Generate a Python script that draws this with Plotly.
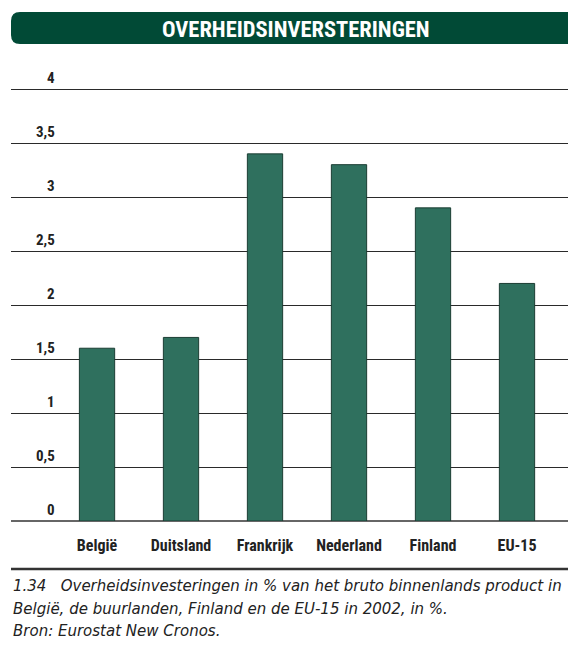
import plotly.graph_objects as go

# data
categories = ['België', 'Duitsland', 'Frankrijk', 'Nederland', 'Finland', 'EU-15']
values = [1.6, 1.7, 3.4, 3.3, 2.9, 2.2]
y_ticks = [0, 0.5, 1, 1.5, 2, 2.5, 3, 3.5, 4]
y_tick_labels = ['0', '0,5', '1', '1,5', '2', '2,5', '3', '3,5', '4']

title_text = 'OVERHEIDSINVERSTERINGEN'
caption_lines = [
    '1.34   Overheidsinvesteringen in % van het bruto binnenlands product in',
    'België, de buurlanden, Finland en de EU-15 in 2002, in %.',
    'Bron: Eurostat New Cronos.',
]

narrow = 'Liberation Sans Narrow, Roboto Condensed, DejaVu Sans Condensed, Arial Narrow, sans-serif'
plain = 'DejaVu Sans, Liberation Sans, Arial, sans-serif'
bar_color = '#2f705e'
dark_green = '#014a36'

W, H = 568, 655
left, right, top, bottom = 11, 0, 88, 134
plot_w = W - left - right
plot_h = H - top - bottom


def px_x(p):
    return (p - left) / plot_w


def px_y(p):
    return (H - bottom - p) / plot_h


fig = go.Figure()
fig.add_trace(go.Bar(
    x=categories, y=values,
    marker=dict(color=bar_color, line=dict(color='#1b3d33', width=1)),
    hoverinfo='x+y',
))

# y tick labels sit above the gridlines, right aligned
annotations = []
for v, t in zip(y_ticks, y_tick_labels):
    annotations.append(dict(
        x=px_x(57), y=v, xref='paper', yref='y', text=t, showarrow=False,
        xanchor='right', yanchor='bottom', yshift=0,
        font=dict(family=narrow, size=15, color='#222', weight='bold'),
    ))

# header text
annotations.append(dict(
    x=px_x(296), y=px_y(29), xref='paper', yref='paper', text=title_text,
    showarrow=False, xanchor='center', yanchor='middle',
    font=dict(family=narrow, size=22.5, color='white', weight='bold'),
))

# caption
for i, line in enumerate(caption_lines):
    annotations.append(dict(
        x=px_x(11), y=px_y(586 + i * 22.5), xref='paper', yref='paper',
        text='<i>' + line + '</i>', showarrow=False,
        xanchor='left', yanchor='middle',
        font=dict(family=plain, size=15, color='#222'),
    ))

# rounded header bar (left corners rounded, runs off the right edge)
x0, x1 = px_x(11), px_x(580)
yt, yb = px_y(12), px_y(44)
rx, ry = 9 / plot_w, 9 / plot_h
path = (f'M {x0 + rx},{yt} L {x1},{yt} L {x1},{yb} L {x0 + rx},{yb} '
        f'Q {x0},{yb} {x0},{yb + ry} L {x0},{yt - ry} Q {x0},{yt} {x0 + rx},{yt} Z')

shapes = [
    dict(type='path', path=path, xref='paper', yref='paper',
         fillcolor=dark_green, line=dict(width=0), layer='above'),
    dict(type='line', xref='paper', yref='paper', x0=0, x1=1,
         y0=px_y(569), y1=px_y(569), line=dict(color='#333', width=2.5)),
]

fig.update_layout(
    width=W, height=H,
    margin=dict(l=left, r=right, t=top, b=bottom),
    plot_bgcolor='white', paper_bgcolor='white',
    showlegend=False,
    bargap=0.58,
    xaxis=dict(range=[-1.024, 5.607], showgrid=False, zeroline=False, showline=False,
               ticks='', tickfont=dict(family=narrow, size=16, color='#222', weight='bold'),
               ticklabelstandoff=13, fixedrange=True),
    yaxis=dict(range=[0, 4.01], tickvals=y_ticks, showticklabels=False,
               showgrid=True, gridcolor='#2a2a2a', gridwidth=1,
               zeroline=True, zerolinecolor='#666', zerolinewidth=2,
               showline=False, fixedrange=True),
    annotations=annotations,
    shapes=shapes,
)

# drop the default page margin so the figure sits at the window's corner
fig.write_html('out.html', config={'displayModeBar': False},
               post_script="document.body.style.margin='0';")
